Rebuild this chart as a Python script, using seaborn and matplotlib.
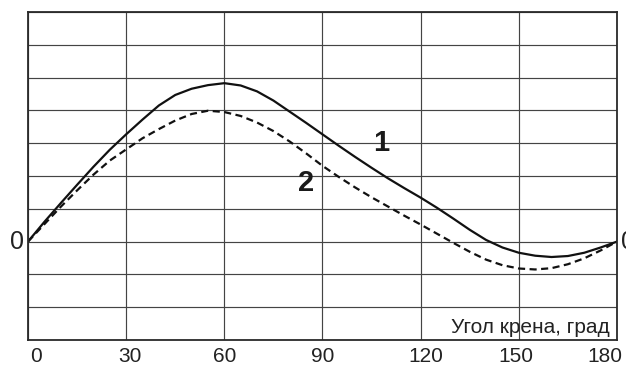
import pandas as pd
import seaborn as sns
import matplotlib.pyplot as plt
from matplotlib.transforms import ScaledTranslation

# heel angle, degrees
angle = [0, 5, 10, 15, 20, 25, 30, 35, 40, 45, 50, 55, 60, 65, 70, 75, 80, 85, 90,
         95, 100, 105, 110, 115, 120, 125, 130, 135, 140, 145, 150, 155, 160, 165, 170, 175, 180]

# curve 1 (solid)
curve_1 = [0, 0.60, 1.17, 1.73, 2.28, 2.80, 3.27, 3.72, 4.15, 4.47, 4.66, 4.77, 4.83,
           4.76, 4.58, 4.30, 3.96, 3.62, 3.27, 2.92, 2.58, 2.25, 1.93, 1.63, 1.34,
           1.03, 0.70, 0.36, 0.05, -0.18, -0.34, -0.43, -0.47, -0.44, -0.34, -0.18, 0]

# curve 2 (dashed)
curve_2 = [0, 0.53, 1.06, 1.56, 2.04, 2.47, 2.81, 3.15, 3.43, 3.69, 3.89, 3.99, 3.95,
           3.83, 3.63, 3.37, 3.05, 2.69, 2.31, 1.97, 1.65, 1.35, 1.07, 0.79, 0.52,
           0.24, -0.04, -0.31, -0.55, -0.72, -0.82, -0.85, -0.81, -0.69, -0.51, -0.27, 0]

x_ticks = [0, 30, 60, 90, 120, 150, 180]
x_label = 'Угол крена, град'


def draw():
    sns.set_style('white')
    plt.rcParams['font.family'] = ['Liberation Sans', 'DejaVu Sans']

    df = pd.DataFrame({'angle': angle, 'c1': curve_1, 'c2': curve_2})

    fig = plt.figure(figsize=(6.26, 3.68), dpi=100)
    ax = fig.add_axes([0.0447, 0.0761, 0.9409, 0.8913])

    sns.lineplot(data=df, x='angle', y='c1', ax=ax, color='#111111', linewidth=1.6)
    sns.lineplot(data=df, x='angle', y='c2', ax=ax, color='#111111', linewidth=1.6)
    ax.lines[1].set_dashes((3.2, 2.0))
    for ln in ax.lines:
        ln.set_solid_joinstyle('round')
        ln.set_dash_joinstyle('round')

    ax.set_xlim(0, 180)
    ax.set_ylim(-3, 7)
    ax.set_xticks(x_ticks)
    ax.set_xticklabels([str(t) for t in x_ticks], fontsize=15, color='#222222')
    ax.set_yticks(range(-3, 8))
    ax.set_yticklabels([])
    ax.tick_params(axis='both', length=0)
    ax.tick_params(axis='x', pad=5)
    ax.set_xlabel('')
    ax.set_ylabel('')

    # the printed labels are not quite centred on the grid lines
    shifts = [8, 4, 0, 0, 5, -3, -12]
    for lab, dx in zip(ax.get_xticklabels(), shifts):
        lab.set_transform(lab.get_transform() + ScaledTranslation(dx / 100, 0, fig.dpi_scale_trans))

    ax.grid(True, color='#444444', linewidth=0.85)
    ax.set_axisbelow(True)
    for s in ax.spines.values():
        s.set_color('#2a2a2a')
        s.set_linewidth(1.3)

    # curve labels
    ax.text(108.0, 3.02, '1', fontsize=21, fontweight='bold', ha='center', va='center', color='#1a1a1a')
    ax.text(85.1, 1.80, '2', fontsize=21, fontweight='bold', ha='center', va='center', color='#1a1a1a')

    # origin marks
    ax.text(-1.2, 0, '0', fontsize=18, ha='right', va='center', color='#222222', clip_on=False)
    ax.text(181.2, 0, '0', fontsize=18, ha='left', va='center', color='#222222', clip_on=False)

    ax.text(177.9, -2.78, x_label, fontsize=15, ha='right', va='baseline', color='#222222')

    fig.savefig('out.png', dpi=100)


if __name__ == '__main__':
    draw()
